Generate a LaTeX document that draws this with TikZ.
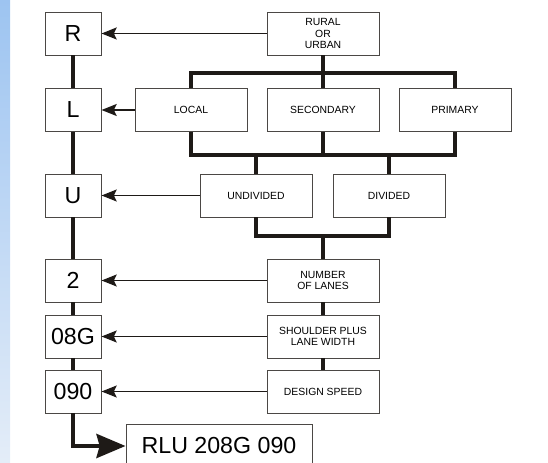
\documentclass[tikz,border=0pt]{standalone}
\usepackage{fontspec}
\setmainfont{Liberation Sans}
\usetikzlibrary{arrows.meta}

\definecolor{stripTop}{HTML}{9DC4F1}
\definecolor{stripBot}{HTML}{E4EDF8}
\definecolor{ink}{HTML}{1E1A17}

\begin{document}
\begin{tikzpicture}[
		letter/.style={rectangle, draw=ink!80, line width=0.7pt, fill=white, minimum width=1.4cm, minimum height=1.075cm, inner sep=0pt, font=\fontsize{16.5}{18}\selectfont},
		field/.style={rectangle, draw=ink!80, line width=0.7pt, fill=white, minimum width=2.8cm, minimum height=1.075cm, inner sep=0pt, align=center, font=\fontsize{7.4}{8.3}\selectfont},
		bus/.style={draw=ink, line width=2.9pt},
		link/.style={draw=ink, line width=1.15pt, -{Stealth[length=0.38cm, width=0.3cm, inset=0.07cm]}}
	]
  \useasboundingbox (0cm, 0cm) rectangle (13.7cm, 11.575cm);
  \shade [top color=stripTop, bottom color=stripBot] (0cm, 0cm) rectangle (0.25cm, 11.575cm);

  % code letters
  \node (R) [letter] at (1.825cm, 10.7375cm) {R};
  \node (L) [letter] at (1.825cm, 8.825cm) {L};
  \node (U) [letter] at (1.825cm, 6.6875cm) {U};
  \node (n_2) [letter] at (1.825cm, 4.5625cm) {2};
  \node (w_08G) [letter] at (1.825cm, 3.1625cm) {08G};
  \node (s_090) [letter] at (1.825cm, 1.7875cm) {090};
  \node (code) [letter, minimum width=4.65cm] at (5.475cm, 0.425cm) {RLU 208G 090};

  % classes
  \node (rural) [field] at (8.075cm, 10.7375cm) {RURAL\\OR\\URBAN};
  \node (local) [field] at (4.775cm, 8.825cm) {LOCAL};
  \node (secondary) [field] at (8.075cm, 8.825cm) {SECONDARY};
  \node (primary) [field] at (11.375cm, 8.825cm) {PRIMARY};
  \node (undivided) [field] at (6.4cm, 6.6875cm) {UNDIVIDED};
  \node (divided) [field] at (9.725cm, 6.6875cm) {DIVIDED};
  \node (lanes) [field] at (8.075cm, 4.5625cm) {NUMBER\\OF LANES};
  \node (shoulder) [field] at (8.075cm, 3.1625cm) {SHOULDER PLUS\\LANE WIDTH};
  \node (speed) [field] at (8.075cm, 1.7875cm) {DESIGN SPEED};

  \coordinate (bus_a) at (8.075cm, 9.75cm);
  \coordinate (bus_b) at (8.075cm, 7.7cm);
  \coordinate (bus_c) at (8.075cm, 5.675cm);

  \draw [bus] (R) -- (L) -- (U) -- (n_2) -- (w_08G) -- (s_090);
  \draw [bus, -{Stealth[length=0.725cm, width=0.6cm, inset=0.08cm]}] (s_090) |- (code);
  \draw [bus] (rural) -- (secondary);
  \draw [bus] (local) |- (bus_a) -| (primary);
  \draw [bus] (local) |- (bus_b) -| (primary);
  \draw [bus] (secondary) -- (bus_b);
  \draw [bus] (undivided) -- (undivided |- bus_b);
  \draw [bus] (divided) -- (divided |- bus_b);
  \draw [bus] (undivided) |- (bus_c) -| (divided);
  \draw [bus] (bus_c) -- (lanes);
  \draw [bus] (lanes) -- (shoulder) -- (speed);

  \draw [link] (rural) -- (R);
  \draw [link] (local) -- (L);
  \draw [link] (undivided) -- (U);
  \draw [link] (lanes) -- (n_2);
  \draw [link] (shoulder) -- (w_08G);
  \draw [link] (speed) -- (s_090);
\end{tikzpicture}
\end{document}
